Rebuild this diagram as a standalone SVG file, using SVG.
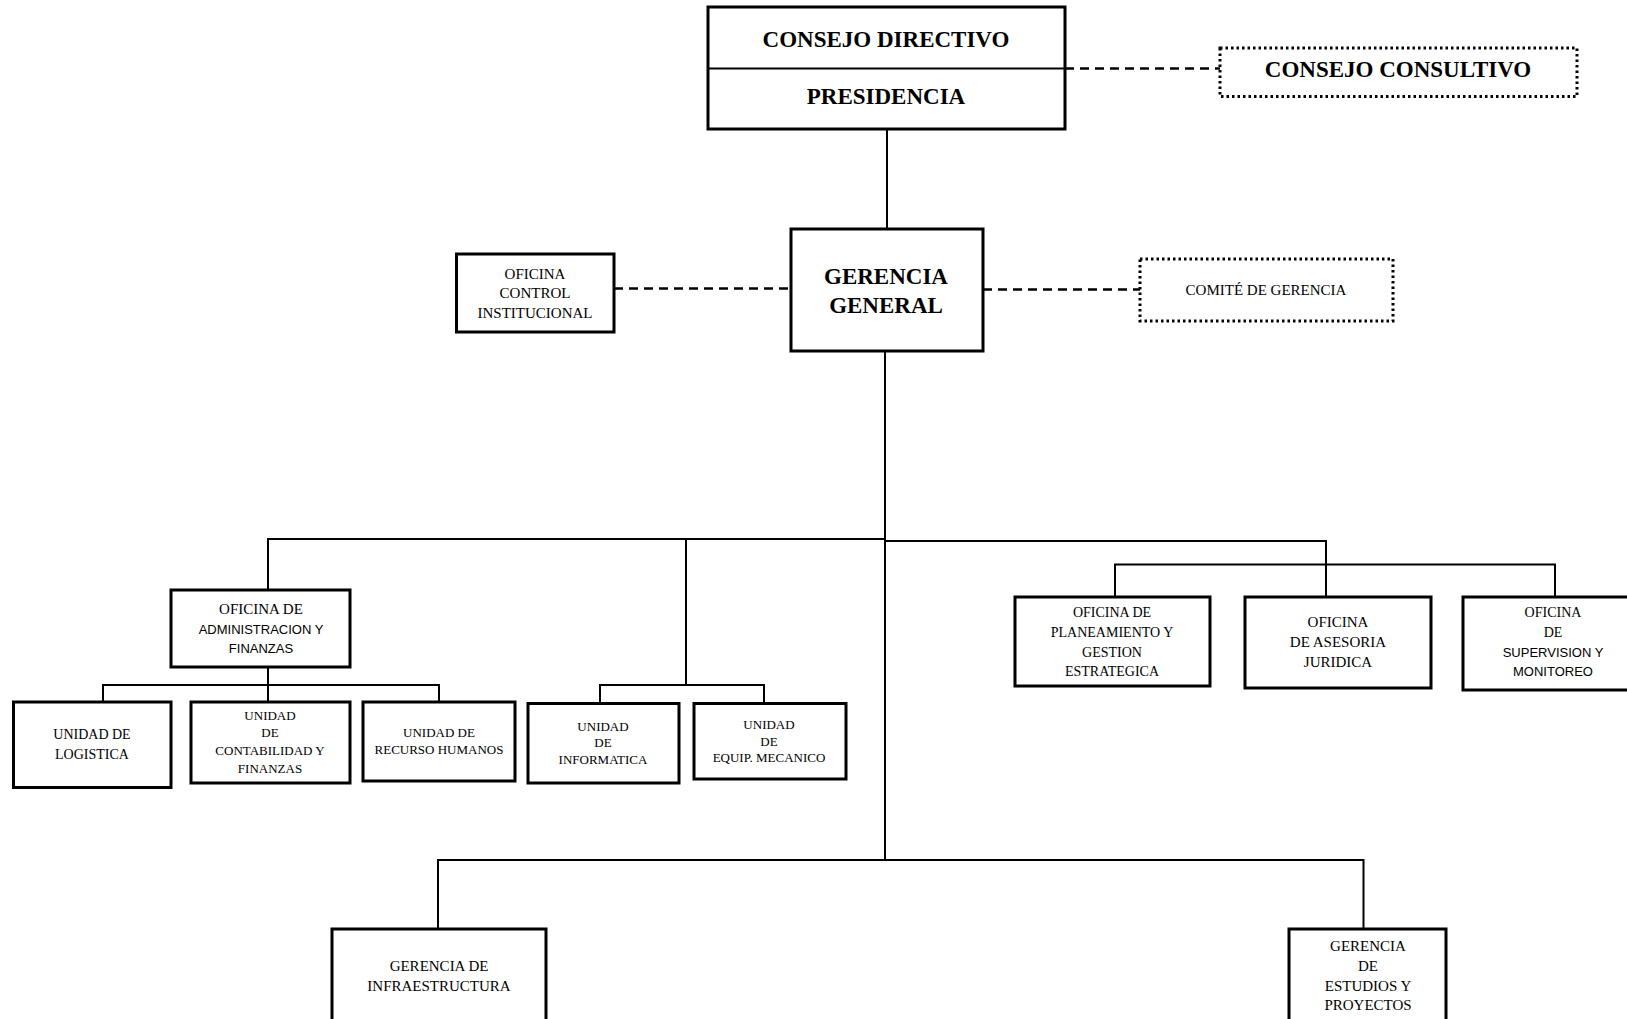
<svg xmlns="http://www.w3.org/2000/svg" width="1627" height="1019" viewBox="0 0 1627 1019">
<style>
.box{fill:#fff;stroke:#000;stroke-width:3}
.dot{fill:#fff;stroke:#000;stroke-width:3;stroke-dasharray:2.5,3}
.ln{fill:none;stroke:#000;stroke-width:2}
.dash{fill:none;stroke:#000;stroke-width:2.5;stroke-dasharray:9,6}
text{font-family:"Liberation Serif","Times New Roman",serif;text-anchor:middle;fill:#000}
.b{font-weight:bold;font-size:23px}
.s15{font-size:15px}
.s14{font-size:14px}
.s13{font-size:13px}
.sans{font-family:"Liberation Sans",Arial,sans-serif;font-size:13px}
</style>
<rect width="1627" height="1019" fill="#fff"/>
<g id="connectors">
<line class="dash" x1="1065" y1="68.5" x2="1220" y2="68.5"/>
<line class="ln" x1="887" y1="129" x2="887" y2="229"/>
<line class="dash" x1="614" y1="288.5" x2="791" y2="288.5"/>
<line class="dash" x1="983" y1="289.5" x2="1140" y2="289.5"/>
<line class="ln" x1="885" y1="351" x2="885" y2="860"/>
<polyline class="ln" points="268,590 268,539 885,539"/>
<polyline class="ln" points="885,541 1326,541 1326,597"/>
<line class="ln" x1="686" y1="539" x2="686" y2="685"/>
<polyline class="ln" points="1115,597 1115,564.5 1555,564.5 1555,597"/>
<line class="ln" x1="268" y1="667" x2="268" y2="702"/>
<polyline class="ln" points="103,702 103,685 439,685 439,702"/>
<polyline class="ln" points="600,703 600,685 764,685 764,703"/>
<polyline class="ln" points="438,929 438,860 1363.5,860 1363.5,929"/>
</g>
<g id="consejo-directivo">
<rect class="box" x="708" y="7" width="357" height="122"/>
<line class="ln" x1="708" y1="68.5" x2="1065" y2="68.5"/>
<text class="b" x="886" y="47">CONSEJO DIRECTIVO</text>
<text class="b" x="886" y="104">PRESIDENCIA</text>
</g>
<g id="consejo-consultivo">
<rect class="dot" x="1220" y="48" width="357" height="48.5"/>
<text class="b" x="1398" y="77">CONSEJO CONSULTIVO</text>
</g>
<g id="gerencia-general">
<rect class="box" x="791" y="229" width="192" height="122"/>
<text class="b" x="886" y="284">GERENCIA</text>
<text class="b" x="886" y="313">GENERAL</text>
</g>
<g id="oficina-control">
<rect class="box" x="456.5" y="254" width="157.5" height="78"/>
<text class="s15" x="535" y="279">OFICINA</text>
<text class="s15" x="535" y="298">CONTROL</text>
<text class="s15" x="535" y="318">INSTITUCIONAL</text>
</g>
<g id="comite-gerencia">
<rect class="dot" x="1140" y="259" width="253" height="62"/>
<text class="s15" x="1266" y="295">COMITÉ DE GERENCIA</text>
</g>
<g id="oficina-administracion">
<rect class="box" x="171" y="590" width="179" height="77"/>
<text class="s15" x="261" y="614">OFICINA DE</text>
<text class="sans" x="261" y="634">ADMINISTRACION Y</text>
<text class="sans" x="261" y="653">FINANZAS</text>
</g>
<g id="unidad-logistica">
<rect class="box" x="13.5" y="702" width="157.5" height="85.5"/>
<text class="s14" x="92" y="739">UNIDAD DE</text>
<text class="s14" x="92" y="759">LOGISTICA</text>
</g>
<g id="unidad-contabilidad">
<rect class="box" x="191" y="702" width="159" height="81"/>
<text class="s13" x="270" y="720">UNIDAD</text>
<text class="s13" x="270" y="737">DE</text>
<text class="s13" x="270" y="755">CONTABILIDAD Y</text>
<text class="s13" x="270" y="773">FINANZAS</text>
</g>
<g id="unidad-rrhh">
<rect class="box" x="363" y="702" width="152" height="79"/>
<text class="s13" x="439" y="737">UNIDAD  DE</text>
<text class="s13" x="439" y="754">RECURSO HUMANOS</text>
</g>
<g id="unidad-informatica">
<rect class="box" x="528" y="703.5" width="151" height="79.5"/>
<text class="s13" x="603" y="731">UNIDAD</text>
<text class="s13" x="603" y="747">DE</text>
<text class="s13" x="603" y="764">INFORMATICA</text>
</g>
<g id="unidad-equipo">
<rect class="box" x="694" y="703.5" width="152" height="75.5"/>
<text class="s13" x="769" y="729">UNIDAD</text>
<text class="s13" x="769" y="746">DE</text>
<text class="s13" x="769" y="762">EQUIP. MECANICO</text>
</g>
<g id="oficina-planeamiento">
<rect class="box" x="1015" y="597" width="195" height="89"/>
<text class="s14" x="1112" y="617">OFICINA DE</text>
<text class="s14" x="1112" y="637">PLANEAMIENTO Y</text>
<text class="s14" x="1112" y="657">GESTION</text>
<text class="s14" x="1112" y="676">ESTRATEGICA</text>
</g>
<g id="oficina-asesoria">
<rect class="box" x="1245" y="597" width="186" height="91"/>
<text class="s15" x="1338" y="627">OFICINA</text>
<text class="s15" x="1338" y="647">DE ASESORIA</text>
<text class="s15" x="1338" y="667">JURIDICA</text>
</g>
<g id="oficina-supervision">
<rect class="box" x="1463" y="597" width="180" height="93"/>
<text class="s14" x="1553" y="617">OFICINA</text>
<text class="s14" x="1553" y="637">DE</text>
<text class="sans" x="1553" y="657">SUPERVISION Y</text>
<text class="sans" x="1553" y="676">MONITOREO</text>
</g>
<g id="gerencia-infraestructura">
<rect class="box" x="332" y="929" width="214" height="100"/>
<text class="s15" x="439" y="971">GERENCIA DE</text>
<text class="s15" x="439" y="991">INFRAESTRUCTURA</text>
</g>
<g id="gerencia-estudios">
<rect class="box" x="1289" y="929" width="157" height="100"/>
<text class="s15" x="1368" y="951">GERENCIA</text>
<text class="s15" x="1368" y="971">DE</text>
<text class="s15" x="1368" y="991">ESTUDIOS Y</text>
<text class="s15" x="1368" y="1010">PROYECTOS</text>
</g>
</svg>
